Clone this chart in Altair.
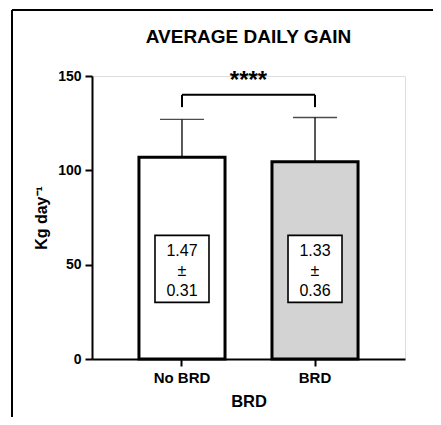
import altair as alt
import pandas as pd

# ---- data ----
groups = ["No BRD", "BRD"]
bar_values = [107.0, 104.5]
error_values = [20.0, 23.5]
adg_means = ["1.47", "1.33"]
adg_sds = ["0.31", "0.36"]
fills = ["#ffffff", "#d3d3d3"]
y_ticks = [0, 50, 100, 150]
significance = "****"
chart_title = "AVERAGE DAILY GAIN"

# ---- annotation levels (in y units) ----
bracket_level = 140
bracket_leg = 133.5
star_level = 147.5
box_top = 65.5
box_bottom = 30
label_level = 57.5

W, H = 313, 283
FONT = "Liberation Sans"

df = pd.DataFrame({
    "group": groups,
    "value": bar_values,
    "upper": [b + e for b, e in zip(bar_values, error_values)],
    "label": [m + "\n±\n" + s for m, s in zip(adg_means, adg_sds)],
    "box_top": [box_top] * len(groups),
    "box_bottom": [box_bottom] * len(groups),
    "label_y": [label_level] * len(groups),
    "leg_top": [bracket_level] * len(groups),
    "leg_bottom": [bracket_leg] * len(groups),
})
bracket_df = pd.DataFrame({"a": [groups[0]], "b": [groups[1]], "y": [bracket_level]})
star_df = pd.DataFrame({"s": [significance], "y": [star_level]})
title_df = pd.DataFrame({"t": [chart_title]})

x_scale = alt.Scale(domain=groups, paddingInner=0.353, paddingOuter=0.353)
y_scale = alt.Scale(domain=[0, 150], nice=False)

x_enc = alt.X(
    "group:N", scale=x_scale, sort=groups, title="BRD",
    axis=alt.Axis(labelAngle=0, labelFontSize=15, labelFontWeight="bold", labelFont=FONT,
                  labelPadding=4, tickSize=7, tickWidth=2, tickColor="black",
                  domainWidth=2, domainColor="black", labelColor="black",
                  titleFontSize=16.5, titleFont=FONT, titleFontWeight="bold",
                  titlePadding=8, titleColor="black"),
)
y_enc = alt.Y(
    "value:Q", scale=y_scale, title="Kg day⁻¹",
    axis=alt.Axis(values=y_ticks, grid=False, labelFontSize=14, labelFontWeight="bold",
                  labelFont=FONT, labelPadding=4, tickSize=7, tickWidth=2, tickColor="black",
                  domainWidth=2, domainColor="black", labelColor="black",
                  titleFontSize=16, titleFont=FONT, titleFontWeight="bold",
                  titlePadding=8, titleColor="black"),
)

base = alt.Chart(df)

bars = base.mark_bar(stroke="black", strokeWidth=3).encode(
    x=x_enc,
    y=y_enc,
    fill=alt.Fill("group:N", scale=alt.Scale(domain=groups, range=fills), legend=None),
)

err_line = base.mark_rule(color="black", strokeWidth=1.3).encode(
    x=alt.X("group:N", scale=x_scale),
    y=alt.Y("value:Q", scale=y_scale),
    y2="upper:Q",
)
err_cap = base.mark_tick(color="black", thickness=1.3, size=44, orient="horizontal").encode(
    x=alt.X("group:N", scale=x_scale),
    y=alt.Y("upper:Q", scale=y_scale),
)

boxes = base.mark_bar(width=54, fill="white", stroke="black", strokeWidth=1.6).encode(
    x=alt.X("group:N", scale=x_scale),
    y=alt.Y("box_top:Q", scale=y_scale),
    y2="box_bottom:Q",
)
labels = base.mark_text(lineBreak="\n", lineHeight=20, fontSize=16, font=FONT,
                        baseline="middle", align="center", color="black").encode(
    x=alt.X("group:N", scale=x_scale),
    y=alt.Y("label_y:Q", scale=y_scale),
    text="label:N",
)

legs = base.mark_rule(color="black", strokeWidth=2).encode(
    x=alt.X("group:N", scale=x_scale),
    y=alt.Y("leg_top:Q", scale=y_scale),
    y2="leg_bottom:Q",
)
bracket = alt.Chart(bracket_df).mark_rule(color="black", strokeWidth=2).encode(
    x=alt.X("a:N", scale=x_scale),
    x2="b:N",
    y=alt.Y("y:Q", scale=y_scale),
)
stars = alt.Chart(star_df).mark_text(fontSize=24, fontWeight="bold", font=FONT,
                                     baseline="middle", align="center", color="black").encode(
    x=alt.value(W / 2),
    y=alt.Y("y:Q", scale=y_scale),
    text="s:N",
)

title_mark = alt.Chart(title_df).mark_text(fontSize=19, fontWeight="bold", font=FONT,
                                           baseline="middle", align="center", color="black",
                                           clip=False).encode(
    x=alt.value(W / 2), y=alt.value(-39), text="t:N"
)

frame_left = alt.Chart(star_df).mark_rule(color="black", strokeWidth=2, clip=False).encode(
    x=alt.value(-80), y=alt.value(-66), y2=alt.value(H + 120)
)
frame_top = alt.Chart(star_df).mark_rule(color="black", strokeWidth=2, clip=False).encode(
    x=alt.value(-80), x2=alt.value(W + 120), y=alt.value(-66)
)

chart = alt.layer(
    frame_left, frame_top, title_mark, bars, err_line, err_cap, boxes, labels, legs, bracket, stars
).properties(
    width=W, height=H,
    autosize=alt.AutoSizeParams(type="none"),
    padding={"left": 84, "top": 68, "right": 28, "bottom": 58},
).configure_view(stroke=None).configure(background="white")

chart.save("out.html", embed_options={"renderer": "svg", "actions": False})
